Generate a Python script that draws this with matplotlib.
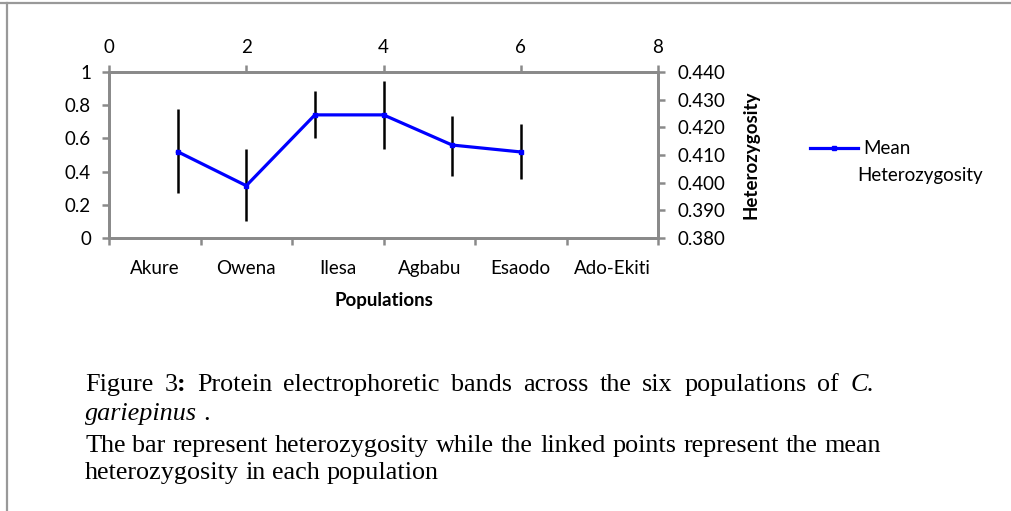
import numpy as np
import matplotlib
matplotlib.use("Agg")
import matplotlib.pyplot as plt
from matplotlib.lines import Line2D

# ---------------- data ----------------
populations = ["Akure", "Owena", "Ilesa", "Agbabu", "Esaodo", "Ado-Ekiti"]
pos = [1, 2, 3, 4, 5, 6]
mean_het = [0.4112, 0.3989, 0.4245, 0.4245, 0.4136, 0.4111]   # right axis
bar_mid = [0.525, 0.317, 0.744, 0.739, 0.555, 0.521]          # left axis
bar_err = [0.255, 0.217, 0.140, 0.205, 0.179, 0.165]
top_ticks = [0, 2, 4, 6, 8]
left_ticks = [0, 0.2, 0.4, 0.6, 0.8, 1]
right_ticks = [0.38, 0.39, 0.40, 0.41, 0.42, 0.43, 0.44]

W, H = 1011, 511
GRAY = "#8a8a8a"
FONT = "Lato"
TICK_FS = 13.5
plt.rcParams["font.family"] = [FONT, "DejaVu Sans"]

fig = plt.figure(figsize=(W / 100, H / 100), dpi=100)

def fx(px):
    return px / W

def fy(py):
    return 1 - py / H

# plot box in pixels: left 109, right 658, top 72, bottom 238
ax = fig.add_axes([fx(109), fy(238), fx(658 - 109), (238 - 72) / H])
ax_r = ax.twinx()
ax_b = ax.twiny()

ax.set_xlim(0, 8)
ax.set_ylim(0, 1)
ax.xaxis.tick_top()
ax.set_xticks(top_ticks)
ax.set_xticklabels([str(t) for t in top_ticks])
ax.set_yticks(left_ticks)
ax.set_yticklabels(["0", "0.2", "0.4", "0.6", "0.8", "1"])

ax_r.set_ylim(0.38, 0.44)
ax_r.set_yticks(right_ticks)
ax_r.set_yticklabels(["%.3f" % v for v in right_ticks])

ax_b.set_xlim(0, len(populations))
ax_b.xaxis.tick_bottom()
ax_b.xaxis.set_label_position("bottom")
ax_b.set_xticks(np.arange(len(populations) + 1))
ax_b.set_xticklabels([])
ax_b.set_xticks(np.arange(len(populations)) + 0.5, minor=True)
ax_b.set_xticklabels(populations, minor=True)

for a in (ax, ax_r, ax_b):
    for s in a.spines.values():
        s.set_color(GRAY)
        s.set_linewidth(1.8)
    a.tick_params(which="major", color=GRAY, width=1.8, length=5,
                  direction="out", labelsize=TICK_FS, labelcolor="black")
ax_b.tick_params(axis="x", which="minor", length=0, pad=16, labelsize=TICK_FS)
ax.tick_params(axis="x", pad=6.5)
ax.tick_params(axis="y", pad=8)
ax_r.tick_params(axis="y", pad=9)

# error bars on the secondary (top/left) scale
ax.errorbar(pos, bar_mid, yerr=bar_err, fmt="none", ecolor="black",
            elinewidth=1.8, capsize=0)

# mean line on the right axis
ax_r.plot(pos, mean_het, color="#0000ff", lw=2.3, marker="s", ms=3.5,
          mec="#0000ff", mfc="#0000ff", solid_joinstyle="round")

ax_b.set_xlabel("Populations", fontsize=13.5, fontweight="bold", labelpad=11)
ax_r.set_ylabel("Heterozygosity", fontsize=13.5, fontweight="bold", labelpad=12)

# legend
leg_line = Line2D([0], [0], color="#0000ff", lw=2.3, marker="s", ms=3.5)
fig.legend([leg_line], ["Mean"], loc="center left",
           bbox_to_anchor=(fx(802), fy(149)), frameon=False, fontsize=TICK_FS,
           handlelength=2.6, handletextpad=0.25, borderaxespad=0)
fig.text(fx(857), fy(176), "Heterozygosity", fontsize=TICK_FS, va="center", ha="left")

# border of the figure
fig.add_artist(Line2D([fx(0), fx(W)], [fy(3.5), fy(3.5)], color="#999999", lw=1.6))
fig.add_artist(Line2D([fx(7), fx(7)], [fy(3.5), fy(H)], color="#999999", lw=1.6))

# caption
renderer = fig.canvas.get_renderer()
CAP = dict(fontsize=18.8, family="Liberation Serif", color="black", va="baseline")
X0, X1 = 85, 881

def text_width(s, **kw):
    t = fig.text(0, 0, s, **kw)
    w = t.get_window_extent(renderer).width
    t.remove()
    return w

SPACE = text_width("a a", **CAP) - text_width("aa", **CAP)

def put_line(words, y, justify, x1=X1):
    # words: list of words, each word a list of (text, style, weight)
    arts = []
    widths = []
    for w in words:
        parts = []
        wsum = 0
        for txt, st, wt in w:
            t = fig.text(0, fy(y), txt, style=st, weight=wt, **CAP)
            pw = t.get_window_extent(renderer).width
            parts.append((t, pw))
            wsum += pw
        arts.append(parts)
        widths.append(wsum)
    space = SPACE
    if justify and len(words) > 1:
        space = (x1 - X0 - sum(widths)) / (len(words) - 1)
    x = X0
    for parts, wd in zip(arts, widths):
        xx = x
        for t, pw in parts:
            t.set_x(fx(xx))
            xx += pw
        x += wd + space

def simple(s, st="normal"):
    return [[(w, st, "normal")] for w in s.split()]

line1 = ([[("Figure", "normal", "normal")],
          [("3", "normal", "normal"), (":", "normal", "bold")]]
         + simple("Protein electrophoretic bands across the six populations of")
         + [[("C.", "italic", "normal")]])
line2 = [[("gariepinus", "italic", "normal")], [(".", "normal", "normal")]]
line3 = simple("The bar represent heterozygosity while the linked points represent the mean")
line4 = simple("heterozygosity in each population")

put_line(line1, 391, True, x1=874)
put_line(line2, 420, False)
put_line(line3, 452, True)
put_line(line4, 479, False)

fig.savefig("out.png", dpi=100)
